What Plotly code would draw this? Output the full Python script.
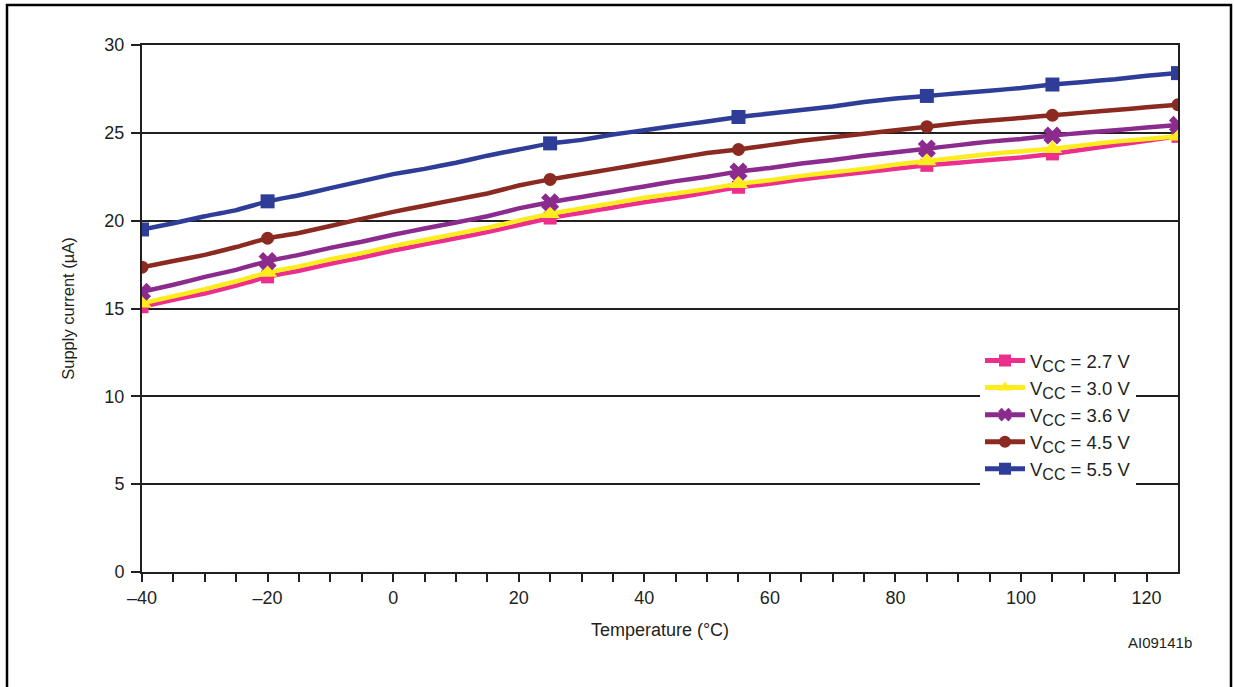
import plotly.graph_objects as go

temps = [-40, -35, -30, -25, -20, -15, -10, -5, 0, 5, 10, 15, 20, 25, 30, 35, 40, 45,
         50, 55, 60, 65, 70, 75, 80, 85, 90, 95, 100, 105, 110, 115, 120, 125]
marker_temps = [-40, -20, 25, 55, 85, 105, 125]

vcc_27 = [15.1, 15.5, 15.85, 16.3, 16.8, 17.15, 17.55, 17.9, 18.3, 18.65, 19.0, 19.35, 19.75, 20.15,
          20.45, 20.75, 21.05, 21.3, 21.6, 21.9, 22.1, 22.35, 22.55, 22.75, 22.95, 23.15, 23.3, 23.45,
          23.6, 23.8, 24.05, 24.3, 24.55, 24.8]
vcc_30 = [15.3, 15.7, 16.1, 16.55, 17.05, 17.4, 17.8, 18.15, 18.55, 18.9, 19.25, 19.6, 20.0, 20.4,
          20.7, 21.0, 21.3, 21.55, 21.8, 22.1, 22.3, 22.55, 22.75, 22.95, 23.2, 23.4, 23.6, 23.8,
          23.95, 24.1, 24.3, 24.5, 24.65, 24.8]
vcc_36 = [15.95, 16.35, 16.8, 17.2, 17.7, 18.05, 18.45, 18.8, 19.2, 19.55, 19.9, 20.25, 20.7, 21.05,
          21.35, 21.65, 21.95, 22.25, 22.5, 22.8, 23.0, 23.25, 23.45, 23.7, 23.9, 24.1, 24.3, 24.5,
          24.65, 24.85, 25.0, 25.15, 25.3, 25.45]
vcc_45 = [17.35, 17.7, 18.05, 18.5, 19.0, 19.3, 19.7, 20.1, 20.5, 20.85, 21.2, 21.55, 22.0, 22.35,
          22.65, 22.95, 23.25, 23.55, 23.85, 24.05, 24.3, 24.55, 24.75, 24.95, 25.15, 25.35, 25.55, 25.7,
          25.85, 26.0, 26.15, 26.3, 26.45, 26.6]
vcc_55 = [19.5, 19.85, 20.25, 20.6, 21.1, 21.45, 21.85, 22.25, 22.65, 22.95, 23.3, 23.7, 24.05, 24.4,
          24.6, 24.9, 25.15, 25.4, 25.65, 25.9, 26.1, 26.3, 26.5, 26.75, 26.95, 27.1, 27.25, 27.4,
          27.55, 27.75, 27.9, 28.05, 28.25, 28.4]

SUBCC = "<sub><span style='font-size:16px'>CC</span></sub>"
series_names = ["V" + SUBCC + " = 2.7 V", "V" + SUBCC + " = 3.0 V", "V" + SUBCC + " = 3.6 V",
                "V" + SUBCC + " = 4.5 V", "V" + SUBCC + " = 5.5 V"]
series_vals = [vcc_27, vcc_30, vcc_36, vcc_45, vcc_55]
colors = ["#EC2F8C", "#FFEC1C", "#8C2B8E", "#8B2A20", "#2E3D98"]
symbols = ["square", "triangle-up", "x", "circle", "square"]
msizes = [13, 17, 16, 13, 14]

TXT = "#231F20"
FONT = "Liberation Sans, Arial, sans-serif"

fig = go.Figure()
for name, vals, col, sym, ms in zip(series_names, series_vals, colors, symbols, msizes):
    sizes = [ms if t in marker_temps else 0 for t in temps]
    fig.add_trace(go.Scatter(
        x=temps, y=vals, name=name, mode="lines+markers",
        line=dict(color=col, width=4.5, shape="spline", smoothing=0.3),
        marker=dict(symbol=sym, size=sizes, color=col, opacity=1, line=dict(width=0)),
    ))

L, R, T, B = 142, 56, 45, 115
W, H = 1234, 687
pw, ph = W - L - R, H - T - B

def px(x):
    return (x - L) / pw

def py(y):
    return (H - B - y) / ph

fig.update_layout(
    width=W, height=H,
    margin=dict(l=L, r=R, t=T, b=B),
    paper_bgcolor="white", plot_bgcolor="white",
    font=dict(family=FONT, size=18, color=TXT),
    showlegend=True,
    legend=dict(
        x=px(980), y=py(342), xanchor="left", yanchor="top",
        bgcolor="white", borderwidth=0,
        font=dict(family=FONT, size=18.5, color=TXT),
        itemsizing="constant", itemwidth=40, tracegroupgap=0,
    ),
    xaxis=dict(
        range=[-40, 125], tickvals=[-40, -20, 0, 20, 40, 60, 80, 100, 120],
        ticktext=["\u201340", "\u201320", "0", "20", "40", "60", "80", "100", "120"],
        showgrid=False, zeroline=False,
        showline=True, linecolor=TXT, linewidth=2, mirror=True,
        ticks="outside", ticklen=8, tickwidth=2, tickcolor=TXT,
        minor=dict(tickvals=list(range(-35, 125, 5)), ticks="outside", ticklen=8,
                   tickwidth=2, tickcolor=TXT, showgrid=False),
        title=dict(text="Temperature (\u00b0C)", standoff=17, font=dict(size=18, color=TXT)),
        tickfont=dict(size=18, color=TXT),
    ),
    yaxis=dict(
        range=[0, 30], dtick=5, showgrid=True, gridcolor=TXT, gridwidth=1.6,
        zeroline=False, showline=True, linecolor=TXT, linewidth=2, mirror=True,
        ticks="outside", ticklen=9, tickwidth=2, tickcolor=TXT, ticklabelstandoff=3,
        title=dict(text="Supply current (\u00b5A)", standoff=26, font=dict(size=16.5, color=TXT)),
        tickfont=dict(size=18, color=TXT),
    ),
    shapes=[dict(type="rect", xref="paper", yref="paper",
                 x0=px(7), x1=px(1231), y0=py(705), y1=py(5),
                 line=dict(color="black", width=2.5), fillcolor="rgba(0,0,0,0)", layer="below")],
    annotations=[dict(text="AI09141b", xref="paper", yref="paper", x=px(1160), y=py(642),
                      xanchor="center", yanchor="middle", showarrow=False,
                      font=dict(family=FONT, size=15, color=TXT))],
)

fig.write_html("out.html")
